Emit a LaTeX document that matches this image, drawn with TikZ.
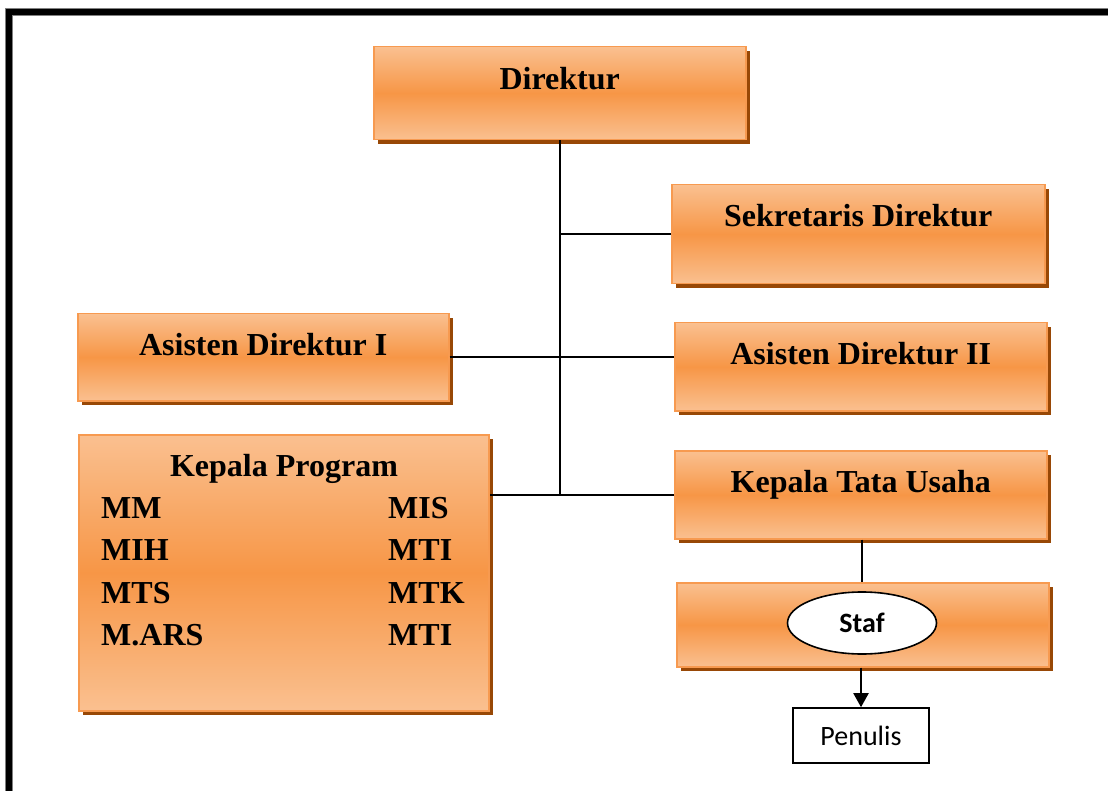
\documentclass[tikz,border=0pt]{standalone}
\usepackage{fontspec}
\setmainfont{Liberation Serif}
\newfontfamily\calibri{Carlito}
\usetikzlibrary{shadows,arrows.meta,shapes.geometric}
\definecolor{orlight}{HTML}{FAC090}
\definecolor{ormid}{HTML}{F79646}
\definecolor{orborder}{HTML}{F79A50}
\definecolor{shadowbrown}{HTML}{984806}
\begin{document}
\begin{tikzpicture}[x=1pt,y=-1pt,
  orgbox/.style={draw=orborder, line width=1.5pt,
    top color=orlight, bottom color=orlight, middle color=ormid,
    drop shadow={shadow xshift=4pt, shadow yshift=-4pt, fill=shadowbrown, opacity=1},
    anchor=north west, inner xsep=0pt, inner ysep=0pt,
    font=\fontsize{32}{38}\selectfont\bfseries, align=center},
  kptext/.style={font=\fontsize{32}{38}\selectfont\bfseries, inner sep=0pt},
  conn/.style={draw=black, line width=1.8pt},
  sanstext/.style={font=\calibri\fontsize{28}{32}\selectfont}
]
\useasboundingbox (0,0) rectangle (1108,791);
\clip (0,0) rectangle (1108,791);
\fill[white] (0,0) rectangle (1108,791);

% boxes
\node[orgbox, minimum width=372pt, text height=43pt, text depth=50pt] (dir) at (373,46) {Direktur};
\node[orgbox, minimum width=373pt, text height=42pt, text depth=57pt] (sek) at (671,184) {Sekretaris Direktur};
\node[orgbox, minimum width=371pt, text height=42pt, text depth=45pt] (as1) at (77,313) {Asisten Direktur I};
\node[orgbox, minimum width=372pt, text height=42pt, text depth=46pt] (as2) at (674,322) {Asisten Direktur II};
\node[orgbox, minimum width=372pt, text height=42pt, text depth=46pt] (ktu) at (674,450) {Kepala Tata Usaha};
\node[orgbox, minimum width=372pt, minimum height=84pt] (stafbox) at (676,582) {};
\node[orgbox, minimum width=410pt, minimum height=276pt] (kp) at (78,434) {};

% Kepala Program texts
\node[kptext, anchor=base] (kpt) at (284,476) {Kepala Program};
\node[kptext, anchor=base west] (mm) at (101,518) {MM};
\node[kptext, anchor=base west] (mih) at (101,560) {MIH};
\node[kptext, anchor=base west] (mts) at (101,603) {MTS};
\node[kptext, anchor=base west] (mars) at (101,645) {M.ARS};
\node[kptext, anchor=base west] (mis) at (388,518) {MIS};
\node[kptext, anchor=base west] (mti1) at (388,560) {MTI};
\node[kptext, anchor=base west] (mtk) at (388,603) {MTK};
\node[kptext, anchor=base west] (mti2) at (388,645) {MTI};

% Staf ellipse and Penulis
\node[ellipse, draw=black, fill=white, line width=1.6pt, minimum width=149pt, minimum height=62pt, inner sep=0pt, font=\calibri\bfseries\fontsize{28}{32}\selectfont] (staf) at (862,623) {Staf};
\node[draw=black, fill=white, line width=1.6pt, minimum width=136pt, minimum height=55pt, inner sep=0pt, sanstext] (pen) at (861,735.5) {Penulis};

% connectors
\draw[conn] (dir.south) -- (dir.south |- ktu.west);
\draw[conn] (sek.west) -- (sek.west -| dir.south);
\draw[conn] (as1.east) -- (as1.east -| as2.west);
\draw[conn] (ktu.west) -- (ktu.west -| kp.east);
\draw[conn] (ktu.south -| staf.north) -- (stafbox.north -| staf.north);
\draw[conn, line width=2pt, -{Triangle[length=14pt,width=15pt]}] (stafbox.south -| pen.north) -- (pen.north);

% frame
\draw[line width=7.8pt, black!50] (9.2,820) -- (9.2,11.8) -- (1130,11.8);
\draw[line width=6.2pt, black] (9.2,820) -- (9.2,11.8) -- (1130,11.8);
\end{tikzpicture}
\end{document}
